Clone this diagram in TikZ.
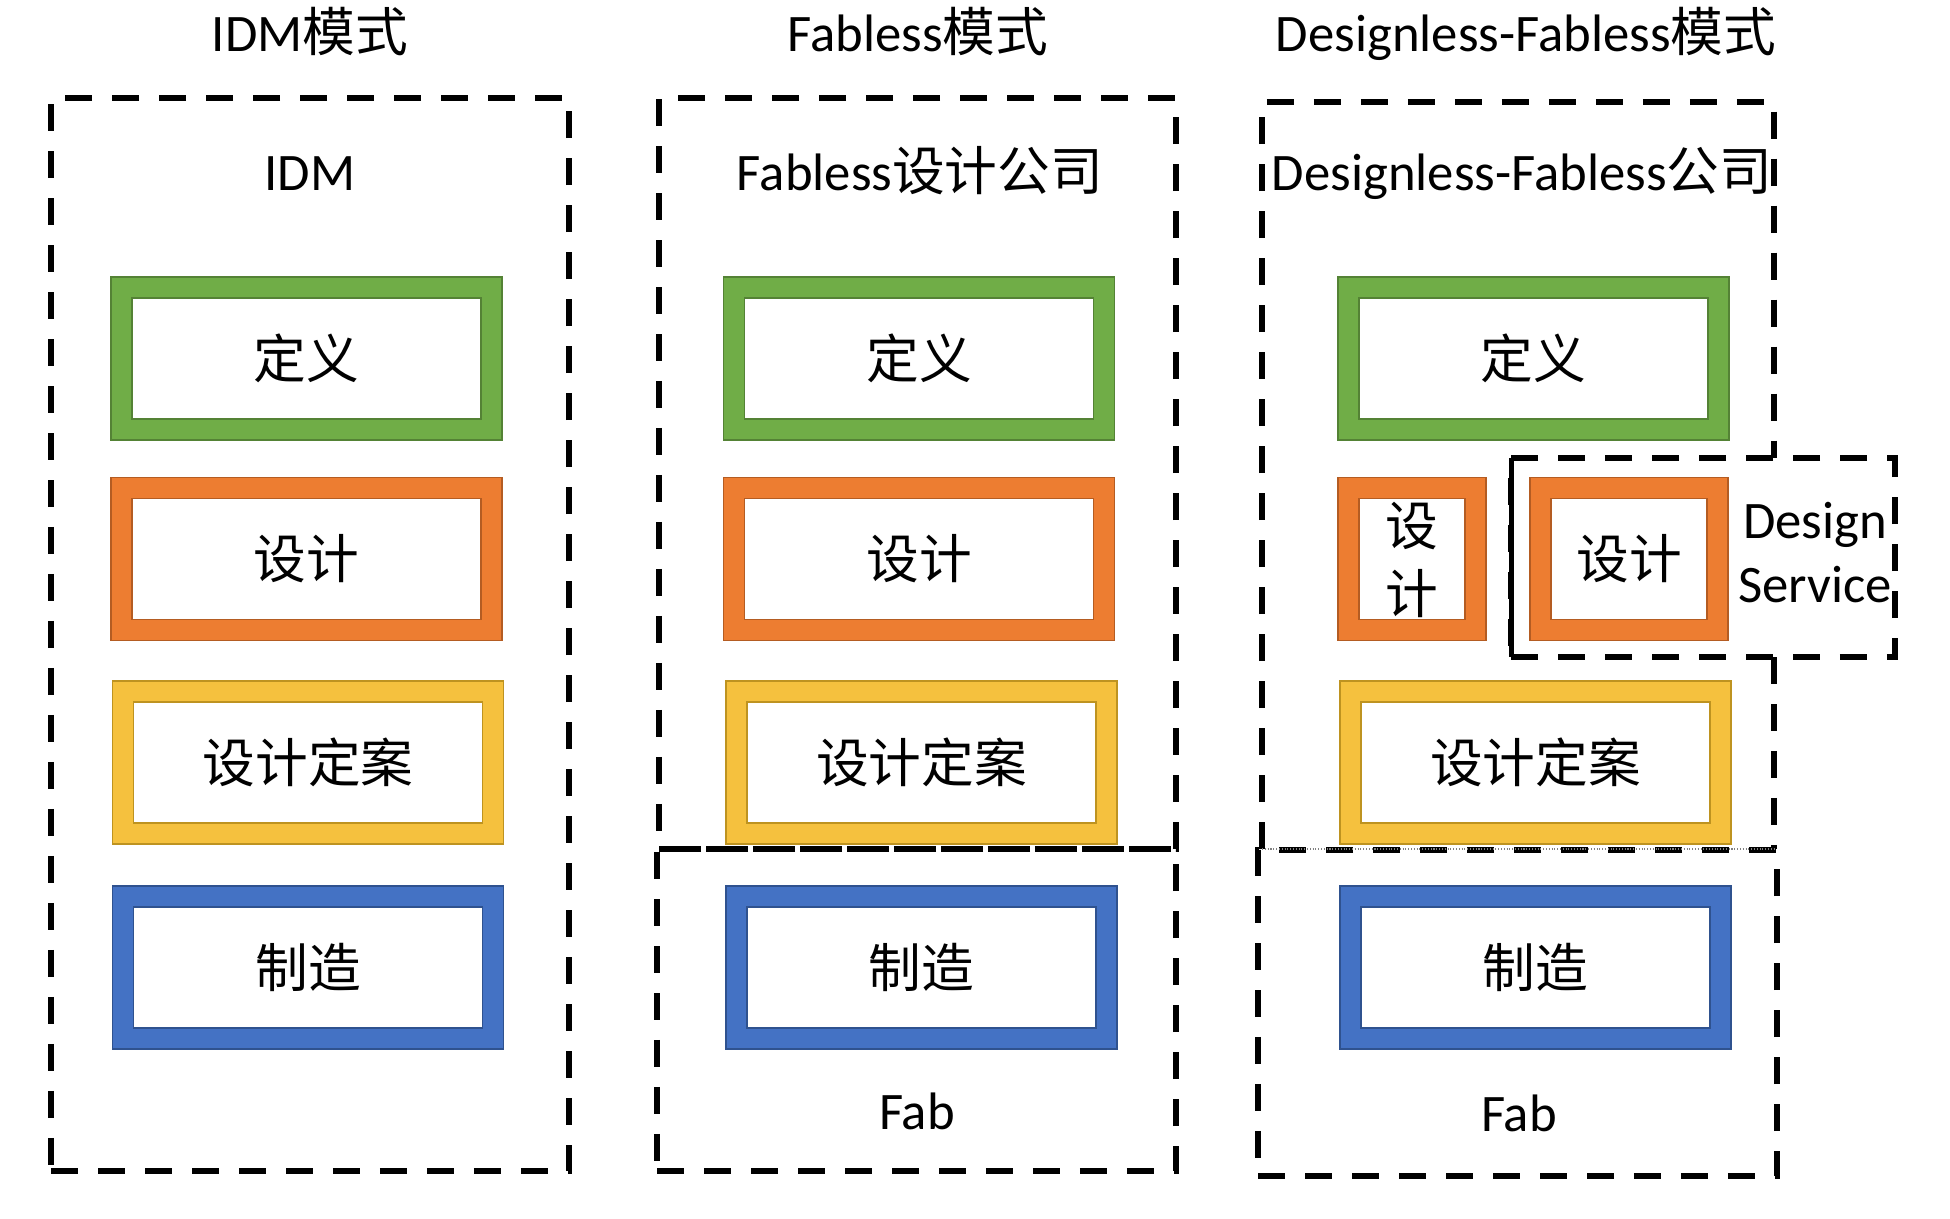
\documentclass[tikz,border=0pt]{standalone}
\usepackage{fontspec}
\setmainfont{Carlito}
\newfontfamily\cjk{Noto Sans CJK SC}
\definecolor{gfill}{RGB}{112,173,71}\definecolor{gline}{RGB}{84,130,53}
\definecolor{ofill}{RGB}{237,125,49}\definecolor{oline}{RGB}{180,92,34}
\definecolor{yfill}{RGB}{245,193,62}\definecolor{yline}{RGB}{190,147,32}
\definecolor{bfill}{RGB}{68,114,196}\definecolor{bline}{RGB}{47,82,143}
\tikzset{
  lbl/.style={font=\fontsize{30}{36}\selectfont, inner sep=0pt},
  dashline/.style={draw=black, line width=0.12cm, dash pattern=on 0.54cm off 0.4cm},
  dashbox/.style={dashline, inner sep=0pt, outer sep=0pt, fill=none},
  framebg/.style={fill=#1fill, draw=#1line, line width=0.8pt, inner sep=0pt},
  framein/.style={fill=white, draw=#1line, line width=0.8pt, inner sep=0pt, font=\fontsize{30}{36}\selectfont\cjk},
  wide/.style={minimum width=7.82cm, minimum height=3.26cm},
  widein/.style={minimum width=6.98cm, minimum height=2.42cm},
}
\begin{document}
\begin{tikzpicture}[x=0.02cm, y=-0.02cm]
\useasboundingbox (0,0) rectangle (1950,1218);
\fill[white] (0,0) rectangle (1950,1218);

% ---------- dashed containers ----------
\node[dashbox, minimum width=10.36cm, minimum height=21.46cm] (idm) at (310,634.5) {};
\node[dashbox, minimum width=10.34cm, minimum height=15.02cm] (fup) at (917.5,473.5) {};
\node[dashbox, minimum width=10.38cm, minimum height=6.44cm] (ffab) at (916.5,1010) {};
\node[dashbox, minimum width=10.38cm, minimum height=6.52cm] (dfab) at (1517.5,1013) {};
\node[dashbox, minimum width=7.68cm, minimum height=3.98cm] (ds) at (1703,557.5) {};
\draw[black, line width=0.1cm] (ds.north west) -- (ds.south west);

\coordinate (dA) at (1262,849);
\coordinate (dB) at (1262,102);
\coordinate (dC) at (1774,102);
\coordinate (dD) at (1774,458);
\coordinate (dE) at (1774,657);
\coordinate (dF) at (1774,849);
\draw[dashline] (dA) -- (dB) -- (dC) -- (dD);
\draw[dashline] (dE) -- (dF);
\draw[gray, densely dotted, line width=0.6pt] (dA) -- (dF);

% ---------- titles ----------
\node[lbl, anchor=base] (t1) at (310,51) {IDM{\cjk 模式}};
\node[lbl, anchor=base] (t2) at (918,51) {Fabless{\cjk 模式}};
\node[lbl, anchor=base] (t3) at (1526,51) {Designless-Fabless{\cjk 模式}};

\node[lbl, anchor=base] (s1) at (310,190) {IDM};
\node[lbl, anchor=base] (s2) at (920,190) {Fabless{\cjk 设计公司}};
\node[lbl, anchor=base] (s3) at (1522,190) {Designless-Fabless{\cjk 公司}};

\node[lbl, anchor=base] (fab1) at (917,1129) {Fab};
\node[lbl, anchor=base] (fab2) at (1519,1131) {Fab};

% ---------- IDM column ----------
\node[framebg=g, wide] (a1) at (306.5,358.5) {};
\node[framein=g, widein] (a1t) at (a1.center) {定义};
\node[framebg=o, wide] (a2) at (306.5,559) {};
\node[framein=o, widein] (a2t) at (a2.center) {设计};
\node[framebg=y, wide] (a3) at (308,762.5) {};
\node[framein=y, widein] (a3t) at (a3.center) {设计定案};
\node[framebg=b, wide] (a4) at (308,967.5) {};
\node[framein=b, widein] (a4t) at (a4.center) {制造};

% ---------- Fabless column ----------
\node[framebg=g, wide] (b1) at (919,358.5) {};
\node[framein=g, widein] (b1t) at (b1.center) {定义};
\node[framebg=o, wide] (b2) at (919,559) {};
\node[framein=o, widein] (b2t) at (b2.center) {设计};
\node[framebg=y, wide] (b3) at (921.5,762.5) {};
\node[framein=y, widein] (b3t) at (b3.center) {设计定案};
\node[framebg=b, wide] (b4) at (921.5,967.5) {};
\node[framein=b, widein] (b4t) at (b4.center) {制造};

% ---------- Designless-Fabless column ----------
\node[framebg=g, wide] (c1) at (1533.5,358.5) {};
\node[framein=g, widein] (c1t) at (c1.center) {定义};
\node[framebg=o, minimum width=2.96cm, minimum height=3.26cm] (c2) at (1412,559) {};
\node[framein=o, minimum width=2.12cm, minimum height=2.42cm] (c2t) at (c2.center) {};
\node[lbl, font=\fontsize{30}{36}\selectfont\cjk] (c2a) at (1412,526.5) {设};
\node[lbl, font=\fontsize{30}{36}\selectfont\cjk] (c2b) at (1412,593.5) {计};
\node[framebg=o, minimum width=3.96cm, minimum height=3.26cm] (c5) at (1629,559) {};
\node[framein=o, minimum width=3.12cm, minimum height=2.42cm] (c5t) at (c5.center) {设计};
\node[framebg=y, wide] (c3) at (1535.5,762.5) {};
\node[framein=y, widein] (c3t) at (c3.center) {设计定案};
\node[framebg=b, wide] (c4) at (1535.5,967.5) {};
\node[framein=b, widein] (c4t) at (c4.center) {制造};

\node[lbl, anchor=base] (ds1) at (1815,538) {Design};
\node[lbl, anchor=base] (ds2) at (1815,602) {Service};
\end{tikzpicture}
\end{document}
